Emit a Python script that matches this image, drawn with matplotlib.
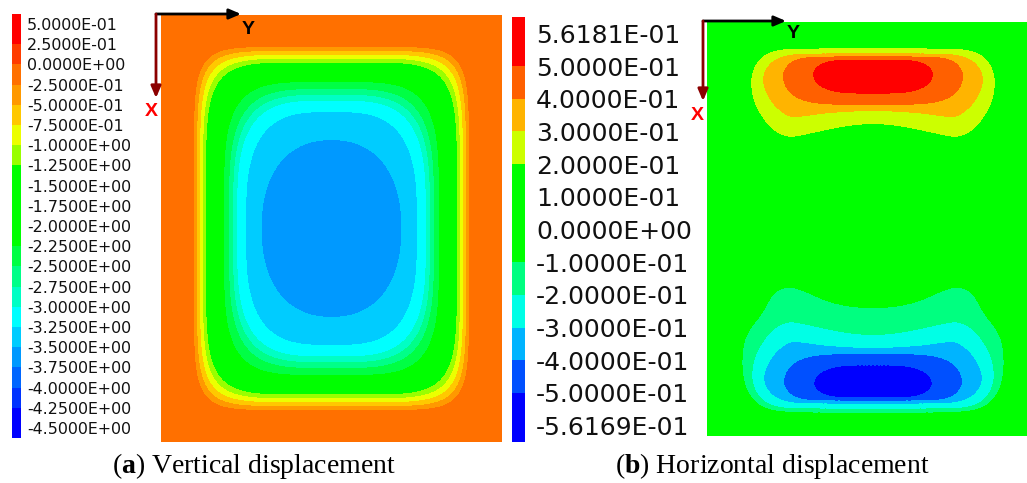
import numpy as np
import matplotlib
matplotlib.use("Agg")
import matplotlib.pyplot as plt
from matplotlib.colors import ListedColormap

plt.rcParams["mathtext.fontset"] = "custom"
plt.rcParams["mathtext.rm"] = "Liberation Serif"
plt.rcParams["mathtext.bf"] = "Liberation Serif:bold"

# ---- legend values / colours -------------------------------------------
vert_labels = [0.5, 0.25, 0.0, -0.25, -0.5, -0.75, -1.0, -1.25, -1.5, -1.75,
               -2.0, -2.25, -2.5, -2.75, -3.0, -3.25, -3.5, -3.75, -4.0,
               -4.25, -4.5]
vert_colors = ["#ff0000", "#ff3c00", "#ff7000", "#ff9900", "#ffc800",
               "#ecff00", "#99ff00", "#00ff00", "#00ff00", "#00ff00",
               "#00ff00", "#00ff44", "#00ff88", "#00ffc4", "#00ffff",
               "#00ccff", "#0099ff", "#0066ff", "#0033ff", "#0000ff"]

horiz_labels = [0.56181, 0.5, 0.4, 0.3, 0.2, 0.1, 0.0, -0.1, -0.2, -0.3,
                -0.4, -0.5, -0.56169]
horiz_colors = ["#ff0000", "#ff6000", "#ffb400", "#ccff00", "#00ff00",
                "#00ff00", "#00ff00", "#00ff80", "#00ffe6", "#00b4ff",
                "#0050ff", "#0000ff"]

# ---- vertical displacement: nested rounded-rectangle contours (px) -----
vert_levels = [-0.05, -0.25, -1.25, -2.25, -2.5, -3.0, -3.25, -3.5, -3.65]
vert_half_w = [171, 138, 126, 108, 103, 95, 86, 70.5]
vert_half_h = [214, 182, 166.5, 147, 140, 128.5, 117, 89]
vert_square = [12, 8, 6, 4.5, 4, 3.6, 3.2, 2.3]

# ---- horizontal displacement: upper lobe contours, right half (dx, dy) --
horiz_levels = [0.0, 0.1, 0.2, 0.3, 0.4, 0.5]
horiz_peak_top = 0.56181
horiz_peak_bottom = -0.56169
lobe_contours = [
    [(0, -56), (150, -56), (165, 0), (160, 60), (120, 120), (85, 130), (0, 110)],
    [(0, -31), (80, -31), (108, -28), (124, -15), (131, 6), (131, 33),
     (126, 50), (110, 70), (100, 90), (85, 96), (70, 92), (40, 78), (0, 73)],
    [(0, -27), (70, -27), (95, -26), (110, -20), (119, -8), (122, 6),
     (119, 25), (110, 42), (98, 55), (85, 61), (72, 59), (50, 54), (25, 49),
     (0, 47)],
    [(0, -22), (60, -22), (85, -21), (100, -15), (108, -5), (110, 6),
     (106, 18), (98, 30), (84, 41), (70, 40), (44, 36), (0, 34)],
    [(0, -19), (50, -19), (70, -18), (82, -14), (89, -5), (90, 3), (85, 15),
     (72, 24), (50, 28), (0, 29)],
    [(0, -16), (35, -16), (50, -13), (58, -7), (60, -1), (57, 7), (47, 13),
     (30, 17), (0, 17)],
]

captions = [r"($\mathbf{a}$) Vertical displacement",
            r"($\mathbf{b}$) Horizontal displacement"]


def chaikin(ring, n):
    for _ in range(n):
        nxt = np.roll(ring, -1, axis=0)
        out = np.empty((2 * len(ring), 2))
        out[0::2] = 0.75 * ring + 0.25 * nxt
        out[1::2] = 0.25 * ring + 0.75 * nxt
        ring = out
    return ring


def polygon_radius(theta, half_pts, flip=False):
    pts = np.array(half_pts, float)
    left = pts[::-1].copy()
    left[:, 0] *= -1
    ring = chaikin(np.vstack([pts, left[1:-1]]), 3)
    if flip:
        ring[:, 1] *= -1
    ang = np.arctan2(ring[:, 1], ring[:, 0])
    rad = np.hypot(ring[:, 0], ring[:, 1])
    order = np.argsort(ang)
    return np.interp(theta, ang[order], rad[order], period=2 * np.pi)


def superellipse_radius(theta, a, b, p):
    c = np.abs(np.cos(theta)) / a
    s = np.abs(np.sin(theta)) / b
    return (c ** p + s ** p) ** (-1.0 / p)


def radial_blend(r, radii, levels):
    # radii run outer -> inner, the last one is the peak (radius 0)
    out = np.full(r.shape, float(levels[0]))
    for k in range(len(radii) - 1):
        ro, ri = radii[k], radii[k + 1]
        m = (r <= ro) & (r > ri)
        t = (ro - r) / np.maximum(ro - ri, 1e-9)
        out = np.where(m, levels[k] + t * (levels[k + 1] - levels[k]), out)
    out = np.where(r <= radii[-1], levels[-1], out)
    return out


def vertical_field(X, Y, cx, cy):
    dx, dy = X - cx, Y - cy
    r, th = np.hypot(dx, dy), np.arctan2(dy, dx)
    radii = [superellipse_radius(th, a, b, p)
             for a, b, p in zip(vert_half_w, vert_half_h, vert_square)]
    radii.append(np.zeros_like(r))
    return radial_blend(r, radii, vert_levels)


def lobe_field(X, Y, cx, cy, peak, sign, flip):
    dx, dy = X - cx, Y - cy
    r, th = np.hypot(dx, dy), np.arctan2(dy, dx)
    radii = [polygon_radius(th, c, flip) for c in lobe_contours]
    radii.append(np.zeros_like(r))
    levels = [sign * v for v in horiz_levels] + [peak]
    return radial_blend(r, radii, levels)


def draw_legend(ax, labels, colors, fontsize, pad):
    n = len(labels)
    edges = np.concatenate([[0], np.arange(1, n - 1) + 0.5, [n]])
    ax.pcolormesh([0, 1], edges, np.arange(n - 1)[:, None],
                  cmap=ListedColormap(colors), vmin=-0.5, vmax=n - 1.5)
    ax.set_ylim(n, 0)
    ax.set_xlim(0, 1)
    ax.set_xticks([])
    ax.yaxis.tick_right()
    ax.set_yticks(np.arange(n) + 0.5)
    ax.set_yticklabels([f"{v:.4E}" for v in labels], fontsize=fontsize,
                       family="DejaVu Sans", color="#111111")
    ax.tick_params(axis="y", length=0, pad=pad)
    for s in ax.spines.values():
        s.set_visible(False)


FW, FH = 1027, 483
fig = plt.figure(figsize=(FW / 100, FH / 100), dpi=100)


def px_axes(x, y, w, h):
    return fig.add_axes([x / FW, 1 - (y + h) / FH, w / FW, h / FH])


# legends
draw_legend(px_axes(12, 14, 9, 424), vert_labels, vert_colors, 11.4, 4.3)
draw_legend(px_axes(512, 17, 13, 425), horiz_labels, horiz_colors, 18, 7.9)

# vertical displacement panel
W1, H1 = 341, 427
ax1 = px_axes(161, 15, W1, H1)
X1, Y1 = np.meshgrid(np.linspace(0, W1, 2 * W1), np.linspace(0, H1, 2 * H1))
Z1 = vertical_field(X1, Y1, W1 / 2, H1 / 2)
bounds1 = [-10] + vert_labels[1:-1][::-1] + [10]
ax1.contourf(X1, Y1, Z1, levels=bounds1, colors=vert_colors[::-1])
ax1.set_xlim(0, W1)
ax1.set_ylim(H1, 0)
ax1.axis("off")

# horizontal displacement panel
W2, H2 = 332, 414
ax2 = px_axes(707, 22, W2, H2)
X2, Y2 = np.meshgrid(np.linspace(0, W2, 2 * W2), np.linspace(0, H2, 2 * H2))
cx2, cy2 = 166, 54
Z2 = (lobe_field(X2, Y2, cx2, cy2, horiz_peak_top, 1, False)
      + lobe_field(X2, Y2, cx2, H2 - cy2, horiz_peak_bottom, -1, True))
bounds2 = [-10] + horiz_labels[1:-1][::-1] + [10]
ax2.contourf(X2, Y2, Z2, levels=bounds2, colors=horiz_colors[::-1])
ax2.set_xlim(0, W2)
ax2.set_ylim(H2, 0)
ax2.axis("off")

# coordinate triads and captions on a pixel overlay
ov = fig.add_axes([0, 0, 1, 1], zorder=10)
ov.set_xlim(0, FW)
ov.set_ylim(FH, 0)
ov.axis("off")
ov.patch.set_alpha(0)

for (ox, oy), ylen, xlen, ypos, xpos in [((156, 14), 85, 84, (248, 29), (151, 112)),
                                          ((703, 21), 83, 80, (793, 34), (697, 116))]:
    ov.annotate("", xy=(ox + ylen, oy), xytext=(ox, oy),
                arrowprops=dict(arrowstyle="-|>,head_length=0.7,head_width=0.3",
                                color="black", lw=2, shrinkA=0, shrinkB=0))
    ov.annotate("", xy=(ox, oy + xlen), xytext=(ox, oy),
                arrowprops=dict(arrowstyle="-|>,head_length=0.7,head_width=0.3",
                                color="#8b0000", lw=2, shrinkA=0, shrinkB=0))
    ov.text(*ypos, "Y", ha="center", va="center", fontsize=14,
            fontweight="bold", family="Liberation Sans", color="black")
    ov.text(*xpos, "X", ha="center", va="center", fontsize=14,
            fontweight="bold", family="Liberation Sans", color="#ff0000")

for cx, text in zip([254, 772], captions):
    ov.text(cx, 466, text, ha="center", va="center", fontsize=20,
            family="Liberation Serif", color="black")

fig.savefig("out.png", dpi=100)
